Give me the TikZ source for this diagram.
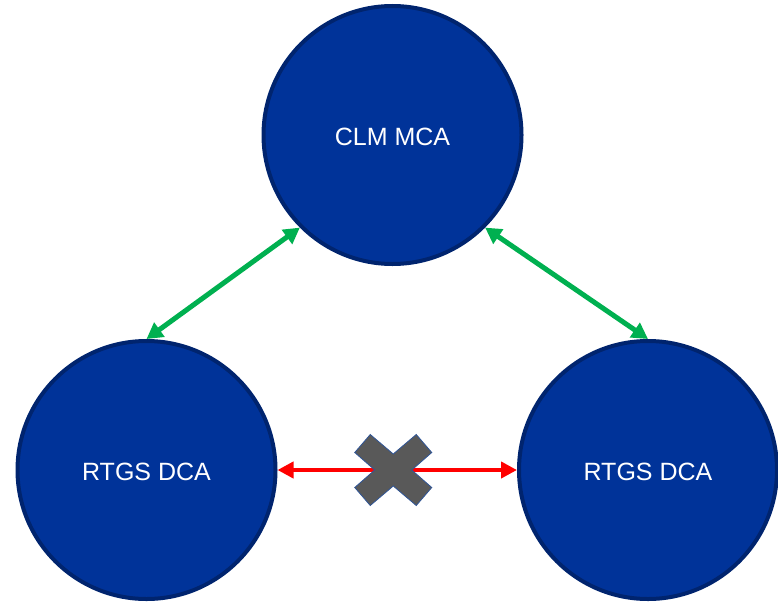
\documentclass[tikz,border=0pt]{standalone}
\usepackage{fontspec}
\setmainfont{Liberation Sans}
\usetikzlibrary{arrows.meta,calc}
\definecolor{circfill}{RGB}{0,51,153}
\definecolor{circedge}{RGB}{0,36,110}
\definecolor{greenarr}{RGB}{0,176,80}
\definecolor{redarr}{RGB}{255,0,0}
\definecolor{crossfill}{RGB}{89,89,89}
\definecolor{crossedge}{RGB}{47,85,151}
\newcommand{\lowtext}[1]{\raisebox{-2pt}[\height][0pt]{#1}}
\tikzset{
  acct/.style={circle, minimum size=258pt, inner sep=0pt, fill=circfill, draw=circedge, line width=4pt, text=white, font=\fontsize{25}{30}\selectfont},
  okarrow/.style={greenarr, line width=5pt, {Triangle[length=16pt,width=17pt]}-{Triangle[length=16pt,width=17pt]}},
  noarrow/.style={redarr, line width=4pt, {Triangle[length=16pt,width=16pt]}-{Triangle[length=16pt,width=16pt]}},
  crossmark/.style={fill=crossfill, draw=crossedge, line width=0.8pt, line join=miter}
}
\begin{document}
\begin{tikzpicture}[x=1pt,y=-1pt]
\useasboundingbox (0,0) rectangle (778,602);
\node[acct] (clm) at (392.5,135) {\lowtext{CLM MCA}};
\node[acct] (rtgsl) at (146.5,470) {\lowtext{RTGS DCA}};
\node[acct] (rtgsr) at (648,470) {\lowtext{RTGS DCA}};
\draw[okarrow] (rtgsl.north) -- (clm.225);
\draw[okarrow] (clm.315) -- (rtgsr.north);
\draw[noarrow] (rtgsl.east) -- (rtgsr.west);
\coordinate (xc) at ($(rtgsl.east)!0.5!(rtgsr.west)+(-4,0)$);
\draw[crossmark, shift={(xc)}]
  (-38.5,-17.5) -- (-23,-35.5) -- (0,-16) -- (23,-35.5) -- (38.5,-17.5) -- (18.5,0)
  -- (38.5,17.5) -- (23,35.5) -- (0,16) -- (-23,35.5) -- (-38.5,17.5) -- (-18.5,0) -- cycle;
\end{tikzpicture}
\end{document}
